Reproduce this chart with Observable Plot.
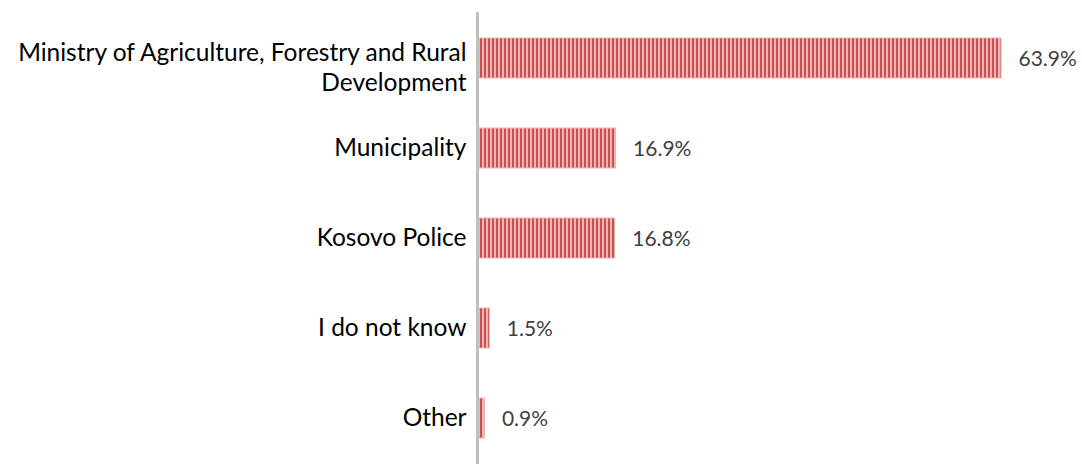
<!DOCTYPE html>
<html>
<head>
<meta charset="utf-8">
<script src="https://cdn.jsdelivr.net/npm/d3@7"></script>
<script src="https://cdn.jsdelivr.net/npm/@observablehq/plot@0.6"></script>
<style>
  html, body { margin: 0; padding: 0; background: #ffffff; }
  #chart svg { display: block; }
</style>
</head>
<body>
<div id="chart"></div>
<script>
const categories = [
  "Ministry of Agriculture, Forestry and Rural Development",
  "Municipality",
  "Kosovo Police",
  "I do not know",
  "Other"
];
const tickLabels = [
  "Ministry of Agriculture, Forestry and Rural\nDevelopment",
  "Municipality",
  "Kosovo Police",
  "I do not know",
  "Other"
];
const values = [63.9, 16.9, 16.8, 1.5, 0.9];

const data = categories.map((c, i) => ({category: c, label: tickLabels[i], value: values[i]}));

const font = "Lato, 'Open Sans', sans-serif";

const chart = Plot.plot({
  width: 1082,
  height: 464,
  marginLeft: 477,
  marginRight: 31,
  marginTop: 12,
  marginBottom: 0,
  style: {fontFamily: font, background: "#ffffff"},
  x: {domain: [0, 70], axis: null},
  y: {domain: categories, axis: null, paddingInner: 0.56, paddingOuter: 0.27},
  marks: [
    Plot.barX(data, {x: "value", y: "category", fill: "url(#stripes)", stroke: "#e9b3b2", strokeWidth: 1, insetLeft: 2}),
    Plot.ruleX([0], {stroke: "#bfbfbf", strokeWidth: 3}),
    Plot.text(data, {filter: d => !d.label.includes("\n"), x: 0, y: "category", text: "label", textAnchor: "end", dx: -11, dy: 0, fontSize: 24.5, fill: "#000000"}),
    Plot.text(data, {filter: d => d.label.includes("\n"), x: 0, y: "category", text: "label", textAnchor: "end", dx: -11, dy: 8, lineHeight: 1.23, fontSize: 24.5, fill: "#000000"}),
    Plot.text(data, {x: "value", y: "category", text: d => d.value.toFixed(1) + "%", textAnchor: "start", dx: 17, dy: 1, fontSize: 21, fill: "#404040"})
  ]
});

// striped pattern fill for the bars
const svg = d3.select(chart);
const defs = svg.insert("defs", ":first-child");
const pat = defs.append("pattern").attr("id", "stripes").attr("patternUnits", "userSpaceOnUse").attr("width", 4).attr("height", 4);
pat.append("rect").attr("x", 0).attr("y", 0).attr("width", 4).attr("height", 4).attr("fill", "#eeb5b4");
pat.append("rect").attr("x", 0).attr("y", 0).attr("width", 2).attr("height", 4).attr("fill", "#c9504e");

document.getElementById("chart").appendChild(chart);
</script>
</body>
</html>
